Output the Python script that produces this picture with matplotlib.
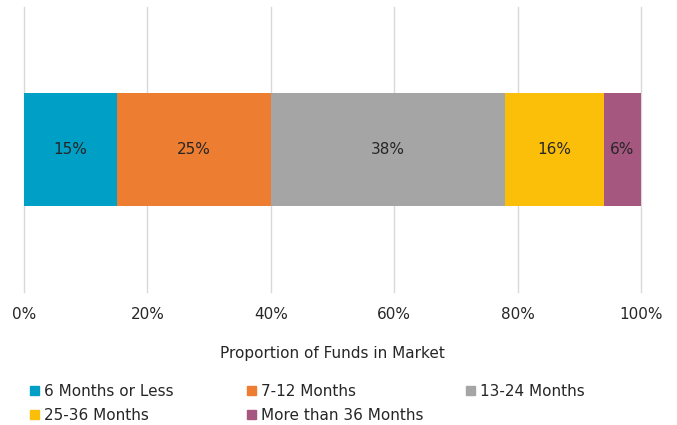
import matplotlib.pyplot as plt
from matplotlib.patches import Patch
from matplotlib.ticker import PercentFormatter

categories = ['6 Months or Less', '7-12 Months', '13-24 Months',
              '25-36 Months', 'More than 36 Months']
shares = [15, 25, 38, 16, 6]
colors = ['#009FC6', '#ED7D31', '#A5A5A5', '#FBBF0A', '#A6577F']

plt.rcParams['font.family'] = ['DejaVu Sans']
text_color = '#262626'
fsize = 11

fig = plt.figure(figsize=(6.77, 4.25), dpi=100)
ax = fig.add_axes([0.0355, 0.313, 0.9113, 0.6705])

left = 0
for name, val, col in zip(categories, shares, colors):
    bars = ax.barh(0, val, left=left, height=1.0, color=col, label=name, zorder=3)
    ax.bar_label(bars, labels=[f'{val}%'], label_type='center',
                 fontsize=fsize, color=text_color)
    left += val

ax.set_xlim(0, 100)
ax.set_ylim(-1.25, 1.25)
ax.set_xticks(range(0, 101, 20))
ax.xaxis.set_major_formatter(PercentFormatter(decimals=0))
ax.set_yticks([])
ax.grid(axis='x', color='#D9D9D9', linewidth=1, zorder=0)
for gl in ax.get_xgridlines():
    gl.set_clip_on(False)
for s in ax.spines.values():
    s.set_visible(False)
ax.tick_params(axis='x', length=0, labelsize=fsize, labelcolor=text_color, pad=11)
ax.set_xlabel('Proportion of Funds in Market', fontsize=fsize, color=text_color,
              labelpad=17)

# legend: Excel-style fixed columns, filled row by row
handles = [Patch(color=c) for c in colors]
columns = [[0, 3], [1, 4], [2]]
col_x = [0.0443, 0.3648, 0.6883]
for idx, x in zip(columns, col_x):
    leg = fig.legend([handles[i] for i in idx], [categories[i] for i in idx],
                     loc='upper left', bbox_to_anchor=(x, 0.0965),
                     frameon=False, fontsize=fsize, handlelength=0.6,
                     handleheight=0.6, handletextpad=0.3, labelspacing=0.58,
                     borderpad=0, borderaxespad=0)
    for t in leg.get_texts():
        t.set_color(text_color)

fig.savefig('out.png', dpi=100)
